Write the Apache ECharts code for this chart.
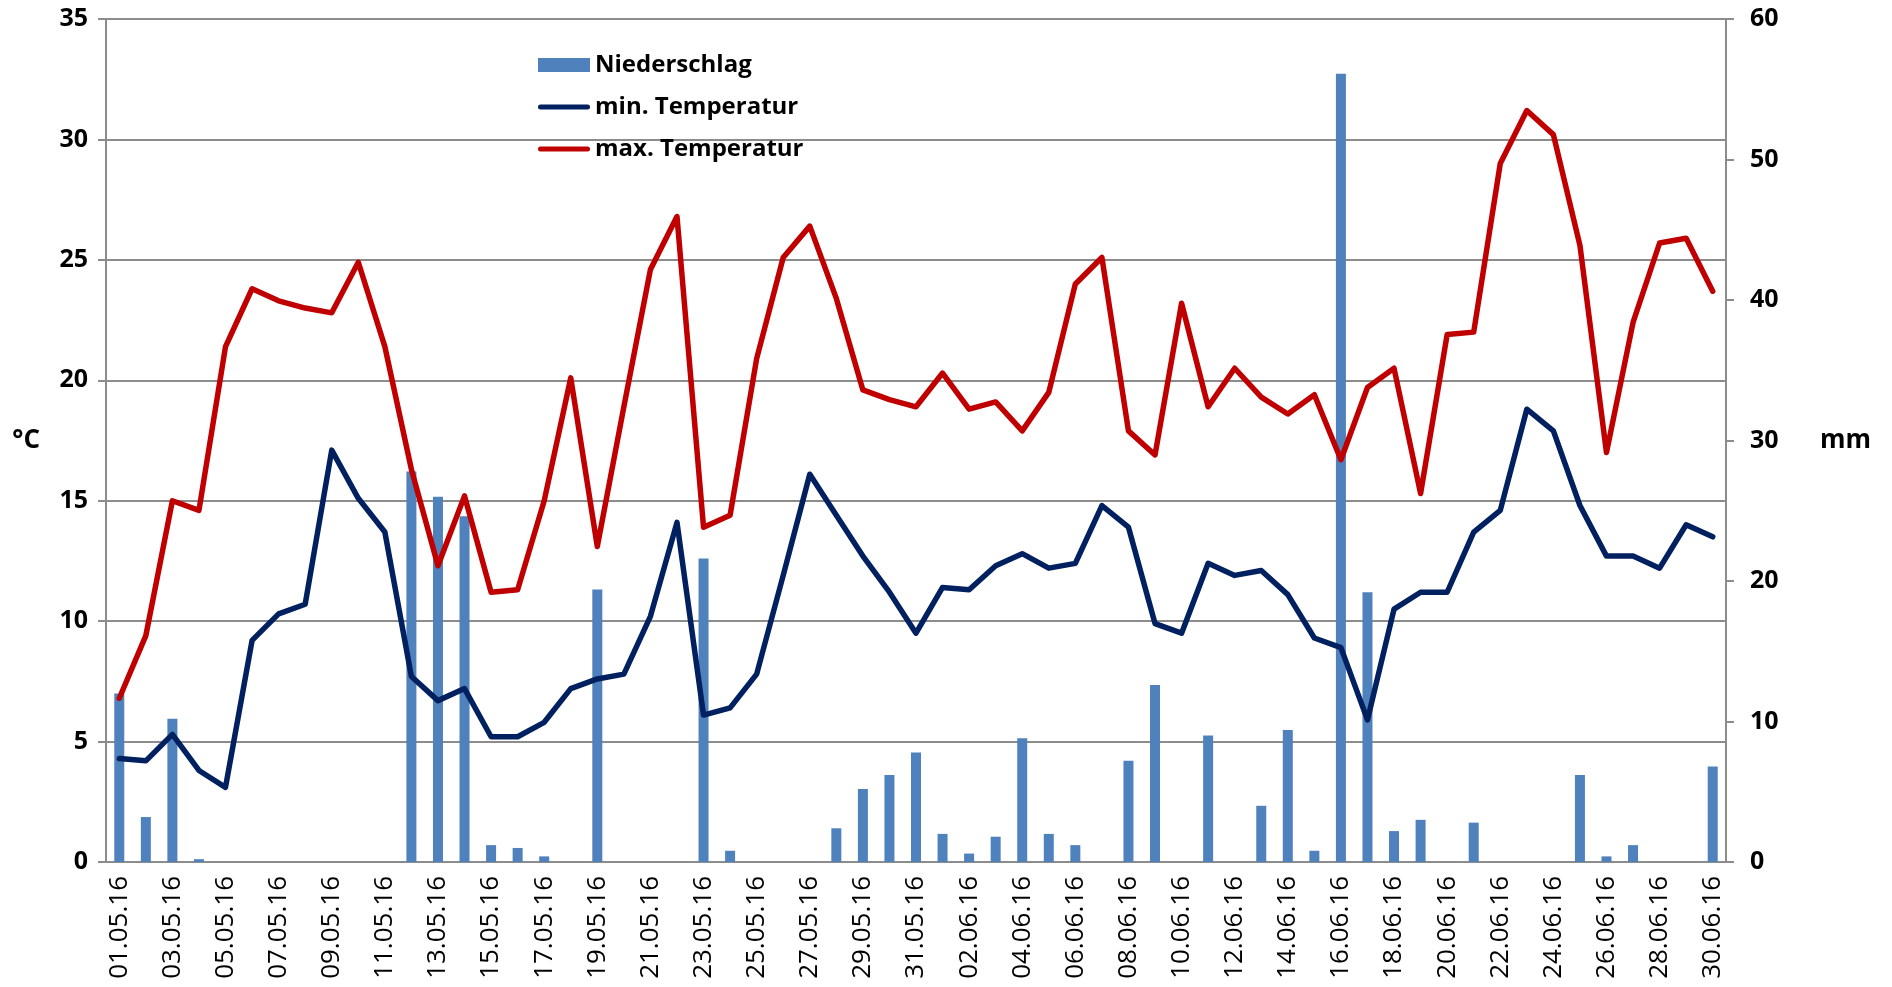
<!DOCTYPE html>
<html>
<head>
<meta charset="utf-8">
<script src="https://cdn.jsdelivr.net/npm/echarts@6/dist/echarts.min.js"></script>
<style>
html,body{margin:0;padding:0;background:#fff;}
#chart{width:1892px;height:987px;}
</style>
</head>
<body>
<div id="chart"></div>
<script>
const dates = ["01.05.16","02.05.16","03.05.16","04.05.16","05.05.16","06.05.16","07.05.16","08.05.16","09.05.16","10.05.16",
"11.05.16","12.05.16","13.05.16","14.05.16","15.05.16","16.05.16","17.05.16","18.05.16","19.05.16","20.05.16",
"21.05.16","22.05.16","23.05.16","24.05.16","25.05.16","26.05.16","27.05.16","28.05.16","29.05.16","30.05.16","31.05.16",
"01.06.16","02.06.16","03.06.16","04.06.16","05.06.16","06.06.16","07.06.16","08.06.16","09.06.16","10.06.16",
"11.06.16","12.06.16","13.06.16","14.06.16","15.06.16","16.06.16","17.06.16","18.06.16","19.06.16","20.06.16",
"21.06.16","22.06.16","23.06.16","24.06.16","25.06.16","26.06.16","27.06.16","28.06.16","29.06.16","30.06.16"];

const niederschlag = [12.0,3.2,10.2,0.2,0,0,0,0,0,0,
0,27.8,26.0,24.6,1.2,1.0,0.4,0,19.4,0,
0,0,21.6,0.8,0,0,0,2.4,5.2,6.2,7.8,
2.0,0.6,1.8,8.8,2.0,1.2,0,7.2,12.6,0,
9.0,0,4.0,9.4,0.8,56.1,19.2,2.2,3.0,0,
2.8,0,0,0,6.2,0.4,1.2,0,0,6.8];

const minTemp = [4.3,4.2,5.3,3.8,3.1,9.2,10.3,10.7,17.1,15.1,
13.7,7.7,6.7,7.2,5.2,5.2,5.8,7.2,7.6,7.8,
10.2,14.1,6.1,6.4,7.8,11.9,16.1,14.4,12.7,11.2,9.5,
11.4,11.3,12.3,12.8,12.2,12.4,14.8,13.9,9.9,9.5,
12.4,11.9,12.1,11.1,9.3,8.9,5.9,10.5,11.2,11.2,
13.7,14.6,18.8,17.9,14.8,12.7,12.7,12.2,14.0,13.5];

const maxTemp = [6.8,9.4,15.0,14.6,21.4,23.8,23.3,23.0,22.8,24.9,
21.4,16.3,12.3,15.2,11.2,11.3,15.0,20.1,13.1,18.9,
24.6,26.8,13.9,14.4,20.9,25.1,26.4,23.4,19.6,19.2,18.9,
20.3,18.8,19.1,17.9,19.5,24.0,25.1,17.9,16.9,23.2,
18.9,20.5,19.3,18.6,19.4,16.7,19.7,20.5,15.3,21.9,
22.0,29.0,31.2,30.2,25.6,17.0,22.4,25.7,25.9,23.7];

const chart = echarts.init(document.getElementById('chart'), null, {renderer:'canvas'});
const gridColor = '#8c8c8c';
const labelFont = {color:'#000', fontFamily:'Open Sans', fontWeight:700, fontSize:25};
const lineIcon = 'path://M2.5,0 L49.5,0 A2.5,2.5 0 0 1 49.5,5 L2.5,5 A2.5,2.5 0 0 1 2.5,0 Z';

chart.setOption({
  animation:false,
  backgroundColor:'#fff',
  grid:{left:106, right:166, top:19, bottom:125, containLabel:false},
  legend:{
    orient:'vertical', left:533, top:48, itemWidth:52, itemHeight:14, itemGap:18,
    textStyle:{color:'#000', fontFamily:'Open Sans', fontWeight:700, fontSize:24, padding:[0,0,0,0]},
    data:[
      {name:'Niederschlag', icon:'rect'},
      {name:'min. Temperatur', icon:lineIcon},
      {name:'max. Temperatur', icon:lineIcon}
    ]
  },
  xAxis:{
    type:'category', data:dates, boundaryGap:true,
    axisLine:{show:true, lineStyle:{color:gridColor, width:2}},
    axisTick:{show:false},
    axisLabel:{interval:1, rotate:90, margin:14, color:'#000', fontFamily:'Open Sans', fontWeight:400, fontSize:26}
  },
  yAxis:[
    {type:'value', min:0, max:35, interval:5, position:'left',
     name:'°C', nameLocation:'middle', nameRotate:0, nameGap:66,
     nameTextStyle:{color:'#000', fontFamily:'Open Sans', fontWeight:700, fontSize:26},
     axisLine:{show:true, lineStyle:{color:gridColor, width:2}},
     axisTick:{show:true, length:8, lineStyle:{color:gridColor, width:2}},
     axisLabel:Object.assign({margin:18}, labelFont),
     splitLine:{show:true, lineStyle:{color:gridColor, width:2}}},
    {type:'value', min:0, max:60, interval:10, position:'right',
     name:'mm', nameLocation:'middle', nameRotate:0, nameGap:94,
     nameTextStyle:{color:'#000', fontFamily:'Open Sans', fontWeight:700, fontSize:26},
     axisLine:{show:true, lineStyle:{color:gridColor, width:2}},
     axisTick:{show:true, length:8, lineStyle:{color:gridColor, width:2}},
     axisLabel:Object.assign({margin:24}, labelFont),
     splitLine:{show:false}}
  ],
  series:[
    {name:'Niederschlag', type:'bar', yAxisIndex:1, data:niederschlag, barWidth:10,
     itemStyle:{color:'#4F81BD'}, z:1},
    {name:'min. Temperatur', type:'line', yAxisIndex:0, data:minTemp, symbol:'none', showSymbol:false,
     lineStyle:{color:'#002060', width:5.5, cap:'round', join:'round'}, itemStyle:{color:'#002060'}, z:3},
    {name:'max. Temperatur', type:'line', yAxisIndex:0, data:maxTemp, symbol:'none', showSymbol:false,
     lineStyle:{color:'#C00000', width:5.5, cap:'round', join:'round'}, itemStyle:{color:'#C00000'}, z:4}
  ]
});
</script>
</body>
</html>
